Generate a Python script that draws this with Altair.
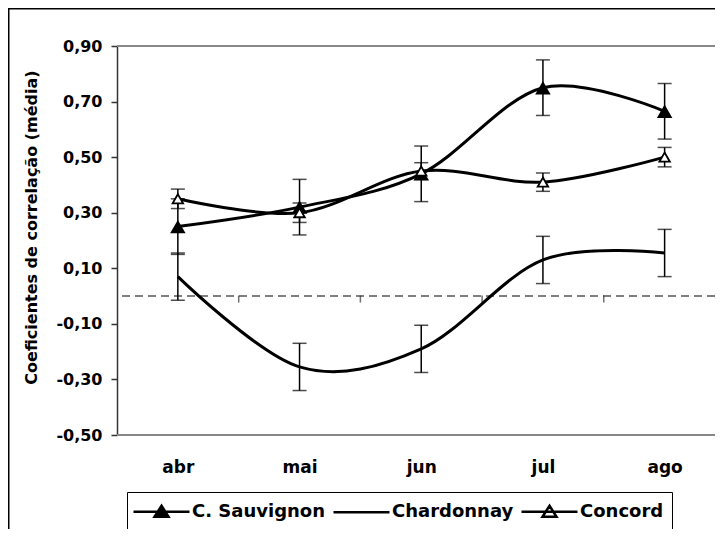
import altair as alt
import pandas as pd

months = ["abr", "mai", "jun", "jul", "ago"]
series_names = ["C. Sauvignon", "Chardonnay", "Concord"]

sauv = [0.25, 0.32, 0.44, 0.75, 0.665]
sauv_err = [0.10, 0.10, 0.10, 0.10, 0.10]
chard = [0.07, -0.255, -0.19, 0.13, 0.155]
chard_err = [0.085, 0.085, 0.085, 0.085, 0.085]
concord = [0.35, 0.30, 0.45, 0.41, 0.50]
concord_err = [0.035, 0.035, 0.03, 0.033, 0.035]

y_ticks = [-0.5, -0.3, -0.1, 0.1, 0.3, 0.5, 0.7, 0.9]
boundaries = [0.5, 1.5, 2.5, 3.5]

rows = []
for name, vals, errs in [("C. Sauvignon", sauv, sauv_err),
                         ("Chardonnay", chard, chard_err),
                         ("Concord", concord, concord_err)]:
    for i, (v, e) in enumerate(zip(vals, errs)):
        rows.append({"series": name, "idx": i, "month": months[i],
                     "value": v, "lo": v - e, "hi": v + e})
df = pd.DataFrame(rows)
one = pd.DataFrame({"k": [0]})
bnd = pd.DataFrame({"idx": boundaries})

FONT = "DejaVu Sans"
YTITLE = "Coeficientes de correlação (média)"
xscale = alt.Scale(domain=[-0.5, 4.414], nice=False, zero=False)
yscale = alt.Scale(domain=[-0.5, 0.9], nice=False, zero=False)

label_js = "[" + ",".join("'%s'" % m for m in months) + "][datum.value]"

x_axis = alt.Axis(values=list(range(len(months))), labelExpr=label_js, title=None,
                  domain=False, ticks=False, grid=False, labelPadding=24,
                  labelFont=FONT, labelFontSize=17, labelFontWeight="bold",
                  labelColor="black")
y_axis = alt.Axis(values=y_ticks, grid=False,
                  labelExpr="replace(replace(format(datum.value, '.2f'), '.', ','), '\u2212', '-')",
                  title=YTITLE,
                  titleFont=FONT, titleFontSize=16, titleFontWeight="bold",
                  titleColor="black", titlePadding=16, titleY=181,
                  labelFont=FONT, labelFontSize=16, labelFontWeight="bold",
                  labelColor="black", labelPadding=9, tickSize=6,
                  tickColor="#333333", tickWidth=1.5,
                  domainColor="#333333", domainWidth=1.5)


def XF(field):
    return alt.X(field + ":Q", scale=xscale, axis=x_axis, title=None)


def YF(field):
    return alt.Y(field + ":Q", scale=yscale, axis=y_axis, title=YTITLE)


base = alt.Chart(df)

border_top = alt.Chart(one).mark_rule(color="#888888", strokeWidth=2).encode(y=alt.datum(0.9))
border_bot = alt.Chart(one).mark_rule(color="#888888", strokeWidth=2).encode(y=alt.datum(-0.5))

zero_line = alt.Chart(one).mark_rule(color="#555555", strokeWidth=1.5, strokeDash=[8, 5]).encode(
    y=alt.datum(0))
zero_ticks = alt.Chart(bnd).mark_tick(orient="vertical", size=7, thickness=1.5,
                                      color="#333333", yOffset=3).encode(
    x=XF("idx"), y=alt.datum(0))

lines = base.mark_line(interpolate="cardinal", color="black", strokeWidth=3).encode(
    x=XF("idx"), y=YF("value"), detail="series:N")

err_rule = base.mark_rule(color="black", strokeWidth=1.5).encode(
    x=XF("idx"), y=YF("lo"), y2="hi:Q")
cap_lo = base.mark_tick(orient="horizontal", size=14, thickness=1.5, color="black").encode(
    x=XF("idx"), y=YF("lo"))
cap_hi = base.mark_tick(orient="horizontal", size=14, thickness=1.5, color="black").encode(
    x=XF("idx"), y=YF("hi"))

pts_sauv = base.transform_filter(alt.datum.series == "C. Sauvignon").mark_point(
    shape="triangle-up", filled=True, size=240, color="black", opacity=1).encode(
    x=XF("idx"), y=YF("value"))
pts_conc = base.transform_filter(alt.datum.series == "Concord").mark_point(
    shape="triangle-up", filled=True, fill="white", stroke="black", strokeWidth=1.8,
    size=110, opacity=1).encode(
    x=XF("idx"), y=YF("value"))

legend_paths = [
    "M-1.3,0L4.3,0M1.5,-0.6L2.2,0.5L0.8,0.5Z",
    "M-1.3,0L4.3,0",
    "M-1.3,0L4.3,0M1.5,-0.6L2.2,0.5L0.8,0.5Z",
]
legend_fills = ["black", "white", "white"]
legend_strokes = ["black", "black", "black"]
leg_def = dict(title=None, symbolStrokeColor="black", symbolStrokeWidth=2.5, symbolOpacity=1)
leg = base.mark_point(opacity=0, strokeWidth=2.5).encode(
    x=XF("idx"), y=YF("value"),
    shape=alt.Shape("series:N", scale=alt.Scale(domain=series_names, range=legend_paths),
                    legend=alt.Legend(**leg_def)),
    fill=alt.Fill("series:N", scale=alt.Scale(domain=series_names, range=legend_fills),
                  legend=alt.Legend(**leg_def)),
    stroke=alt.Stroke("series:N", scale=alt.Scale(domain=series_names, range=legend_strokes),
                      legend=alt.Legend(**leg_def)),
)

frame_left = alt.Chart(one).mark_rule(color="black", strokeWidth=1.5).encode(
    x=alt.value(-108.25), y=alt.value(-38), y2=alt.value(483))
frame_top = alt.Chart(one).mark_rule(color="black", strokeWidth=1.5).encode(
    y=alt.value(-37.25), x=alt.value(-109), x2=alt.value(598))

chart = alt.layer(
    frame_left, frame_top, border_top, border_bot, zero_line, zero_ticks,
    lines, err_rule, cap_lo, cap_hi, pts_sauv, pts_conc, leg
).properties(
    width=598, height=389,
    autosize=alt.AutoSizeParams(type="none"),
    padding={"left": 109, "top": 38, "right": 0, "bottom": 94},
    background="white",
).configure_view(stroke=None).configure_legend(
    orient="none", legendX=10, legendY=446, direction="horizontal",
    strokeColor="black", fillColor="white", padding=8,
    labelFont=FONT, labelFontSize=18, labelFontWeight="bold", labelColor="black",
    symbolSize=400, symbolStrokeWidth=2.5, symbolStrokeColor="black",
    labelOffset=34, columnPadding=2,
)

chart.save("out.html", embed_options={"renderer": "svg", "actions": False})
